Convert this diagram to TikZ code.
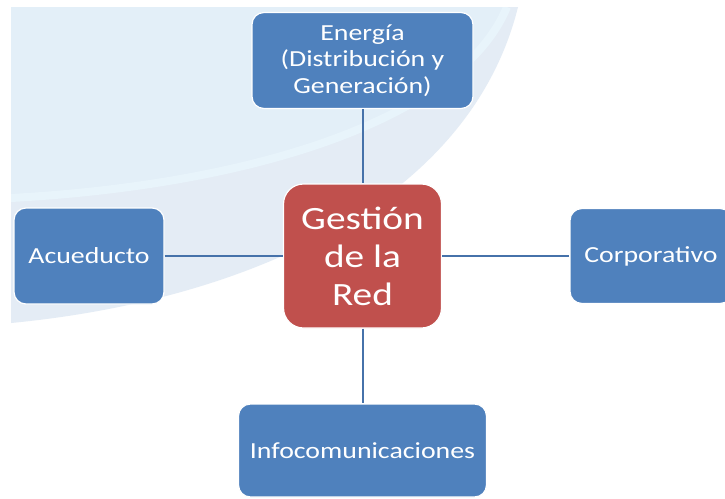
\documentclass[tikz,border=0pt]{standalone}
\usepackage{fontspec}
\setmainfont{Carlito}[FakeStretch=1.21]
\usepackage{tikz}
\usetikzlibrary{positioning}
\definecolor{azul}{HTML}{4F81BD}
\definecolor{rojo}{HTML}{C0504D}
\definecolor{linea}{HTML}{4672AA}
\definecolor{fondo}{HTML}{E4ECF5}
\definecolor{claro}{HTML}{E3EFF8}
\definecolor{banda}{HTML}{E8F4FB}

\begin{document}
\begin{tikzpicture}[
x=1pt,y=-1pt,
font=\normalfont,
caja/.style={draw=white,line width=1.2pt,fill=azul,rounded corners=12pt,
  text=white,align=center,inner sep=0pt,font=\fontsize{23}{26.5}\selectfont},
enlace/.style={draw=linea,line width=2pt}]
    % Page frame
    \clip (0,0) rectangle (725,498);
    \fill[white] (0,0) rectangle (725,498);

    % Draw background swoosh
    \begin{scope}
    \clip (11,7) -- (518,7) .. controls (470,200) and (250,300) .. (11,323) -- cycle;
    \fill[fondo] (0,0) rectangle (725,498);
    \fill[claro] (11,7) -- (507,7) .. controls (460,120) and (250,185) .. (11,198) -- cycle;
    \draw[banda,line width=8pt] (11,198) .. controls (250,185) and (460,120) .. (507,7);
    \end{scope}

    % Boxes
    \node[caja,fill=rojo,rounded corners=20pt,minimum width=158pt,minimum height=144pt,
      font=\fontsize{32.5}{38}\selectfont] (red) at (362.5,256) {Gestión\\de la\\Red};
    \node[caja,minimum width=221pt,minimum height=96pt] (energia) at (362.5,60.5)
      {Energía\\(Distribución y\\Generación)};
    \node[caja,minimum width=150pt,minimum height=96pt] (acueducto) at (89,256) {Acueducto};
    \node[caja,minimum width=162pt,minimum height=95pt] (corporativo) at (651,256) {Corporativo};
    \node[caja,minimum width=248pt,minimum height=93pt] (infocom) at (362.5,450.5) {Infocomunicaciones};

    % Links
    \draw[enlace] (energia) -- (red);
    \draw[enlace] (red) -- (infocom);
    \draw[enlace] (acueducto) -- (red);
    \draw[enlace] (red) -- (corporativo);
\end{tikzpicture}
\end{document}
